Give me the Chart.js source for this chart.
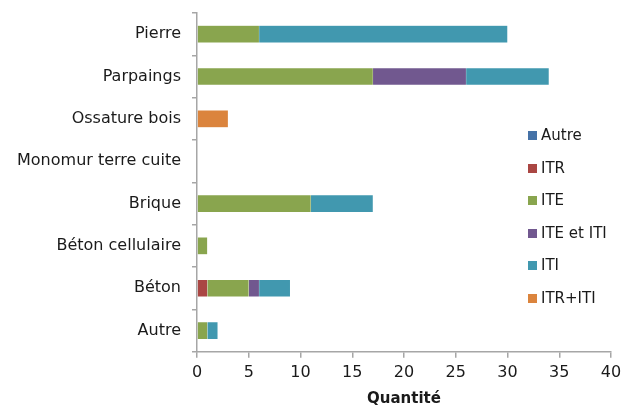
<!DOCTYPE html>
<html>
<head>
<meta charset="utf-8">
<script src="https://cdn.jsdelivr.net/npm/chart.js@4/dist/chart.umd.min.js"></script>
<style>
  body { margin: 0; background: #fff; }
  #wrap { position: relative; width: 623px; height: 408px; }
  #legend { position: absolute; left: 528px; top: 126px; font-family: 'DejaVu Sans', sans-serif; font-size: 15px; color: #1a1a1a; }
  #legend div { height: 32.5px; display: flex; align-items: flex-start; white-space: nowrap; }
  #legend span.box { display: inline-block; width: 9px; height: 9px; margin: 5px 4px 0 0; flex: none; }
</style>
</head>
<body>
<div id="wrap">
  <canvas id="chart" width="623" height="408"></canvas>
  <div id="legend"></div>
</div>
<script>
const categories = ['Pierre', 'Parpaings', 'Ossature bois', 'Monomur terre cuite', 'Brique', 'Béton cellulaire', 'Béton', 'Autre'];

const autre    = [0, 0, 0, 0, 0, 0, 0, 0];
const itr      = [0, 0, 0, 0, 0, 0, 1, 0];
const ite      = [6, 17, 0, 0, 11, 1, 4, 1];
const iteEtIti = [0, 9, 0, 0, 0, 0, 1, 0];
const iti      = [24, 8, 0, 0, 6, 0, 3, 1];
const itrIti   = [0, 0, 3, 0, 0, 0, 0, 0];

const xTicks = [0, 5, 10, 15, 20, 25, 30, 35, 40];

const series = [
  { label: 'Autre', data: autre, color: '#4572A7' },
  { label: 'ITR', data: itr, color: '#AA4643' },
  { label: 'ITE', data: ite, color: '#89A54E' },
  { label: 'ITE et ITI', data: iteEtIti, color: '#71588F' },
  { label: 'ITI', data: iti, color: '#4198AF' },
  { label: 'ITR+ITI', data: itrIti, color: '#DB843D' }
];

const font = { family: "'DejaVu Sans', sans-serif", size: 16 };

new Chart(document.getElementById('chart'), {
  type: 'bar',
  data: {
    labels: categories,
    datasets: series.map(s => ({
      label: s.label,
      data: s.data,
      backgroundColor: s.color,
      borderColor: 'rgba(255,255,255,0.5)',
      borderWidth: 0.5,
      barThickness: 17
    }))
  },
  options: {
    indexAxis: 'y',
    responsive: false,
    animation: false,
    layout: { padding: { top: 13, right: 0, bottom: 0, left: 0 } },
    plugins: {
      legend: { display: false },
      tooltip: { enabled: false }
    },
    scales: {
      x: {
        stacked: true,
        min: 0,
        max: 40,
        afterBuildTicks: scale => { scale.ticks = xTicks.map(v => ({ value: v })); },
        afterFit: scale => { scale.paddingRight = 12; },
        grid: { drawOnChartArea: false, drawTicks: true, tickLength: 6, color: '#A6A6A6', lineWidth: 1.5 },
        border: { color: '#A6A6A6', width: 1.5 },
        ticks: { font: font, color: '#1a1a1a', padding: 5 },
        title: { display: true, text: 'Quantité', font: { family: "'DejaVu Sans', sans-serif", size: 15, weight: 'bold' }, color: '#1a1a1a', padding: { top: 3, bottom: 0 } }
      },
      y: {
        stacked: true,
        afterFit: scale => { scale.width = 197; scale.paddingTop = 0; scale.paddingBottom = 0; },
        grid: { drawOnChartArea: false, drawTicks: true, tickLength: 5, color: '#A6A6A6', lineWidth: 1.5, offset: true },
        border: { color: '#A6A6A6', width: 1.5 },
        ticks: { font: font, color: '#1a1a1a', padding: 11 }
      }
    }
  }
});

const legend = document.getElementById('legend');
series.forEach(s => {
  const row = document.createElement('div');
  row.innerHTML = '<span class="box" style="background:' + s.color + '"></span>' + s.label;
  legend.appendChild(row);
});
</script>
</body>
</html>
